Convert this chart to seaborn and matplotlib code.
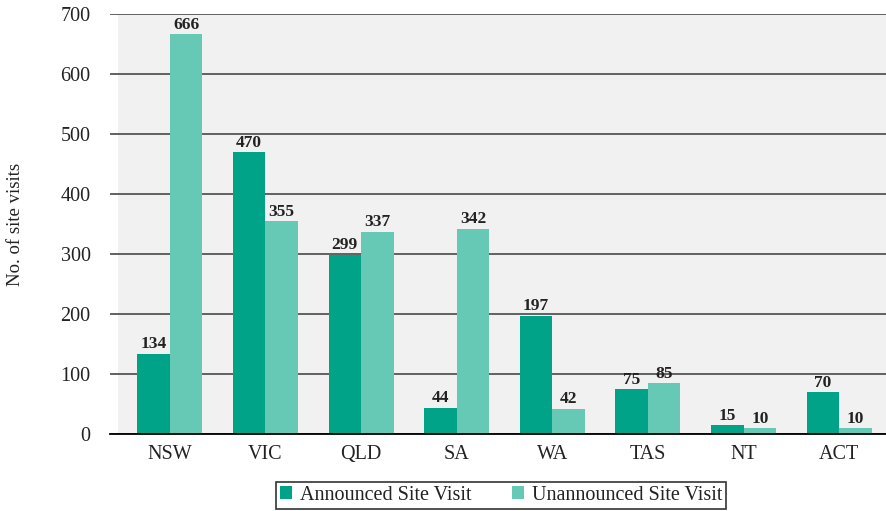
import matplotlib
matplotlib.use("Agg")
import matplotlib.pyplot as plt
import seaborn as sns
import pandas as pd
from matplotlib.ticker import FixedLocator
from matplotlib.patches import Patch

states = ["NSW", "VIC", "QLD", "SA", "WA", "TAS", "NT", "ACT"]
announced = [134, 470, 299, 44, 197, 75, 15, 70]
unannounced = [666, 355, 337, 342, 42, 85, 10, 10]
series_names = ["Announced Site Visit", "Unannounced Site Visit"]
y_ticks = [0, 100, 200, 300, 400, 500, 600, 700]

df = pd.DataFrame({
    "State": states * 2,
    "Visits": announced + unannounced,
    "Type": [series_names[0]] * len(states) + [series_names[1]] * len(states),
})

sns.set_theme(style="white")
plt.rcParams["font.family"] = ["Liberation Serif", "DejaVu Serif"]

W, H = 887, 511
fig = plt.figure(figsize=(W / 100, H / 100), dpi=100)
ax = fig.add_axes([110 / W, 77 / H, 777 / W, 420 / H])

colors = ["#00a388", "#66c9b5"]
sns.barplot(data=df, x="State", y="Visits", hue="Type", order=states,
            hue_order=series_names, palette=colors, width=0.68, gap=0,
            saturation=1, ax=ax, legend=False, zorder=3, linewidth=0,
            edgecolor="none")

ax.set_xlim(-0.5 - 12 / 95.6, 7.5)
ax.set_ylim(0, 700)
ax.axvspan(-0.5 - 4 / 95.6, 7.5, color="#f1f1f1", zorder=0, lw=0)
ax.set_facecolor("white")

ax.set_yticks(y_ticks)
ax.yaxis.grid(True, color="#555555", lw=1.3, zorder=1)
ax.set_axisbelow(True)
for sp in ["top", "right", "left"]:
    ax.spines[sp].set_visible(False)
ax.spines["bottom"].set_color("black")
ax.spines["bottom"].set_linewidth(1.3)
ax.spines["bottom"].set_zorder(4)

ax.tick_params(axis="y", length=0, labelsize=14.5, pad=14, colors="#222222")
ax.tick_params(axis="x", which="major", length=0, labelsize=14.5, pad=8, colors="#222222")
ax.xaxis.set_minor_locator(FixedLocator([i + 0.5 for i in range(len(states) - 1)]))
ax.tick_params(axis="x", which="minor", length=5, width=1.2, color="black", direction="out")

ax.set_xlabel("")
ax.set_ylabel("No. of site visits", fontsize=13.5, labelpad=26, color="#222222")

for cont in ax.containers:
    ax.bar_label(cont, fmt="%d", padding=1, fontsize=12.5, fontweight="bold", color="#222222")

handles = [Patch(facecolor=c, edgecolor="none") for c in colors]
leg = fig.legend(handles, series_names, loc="lower center", bbox_to_anchor=(501 / W, 0.0),
                 ncol=2, frameon=True, fancybox=False, fontsize=14.5, handlelength=0.6,
                 handleheight=0.6, handletextpad=0.4, columnspacing=2.0,
                 borderpad=0.2, borderaxespad=0.1)
leg.get_frame().set_edgecolor("black")
leg.get_frame().set_linewidth(1.2)
for t in leg.get_texts():
    t.set_color("#222222")

fig.savefig("out.png", dpi=100)
